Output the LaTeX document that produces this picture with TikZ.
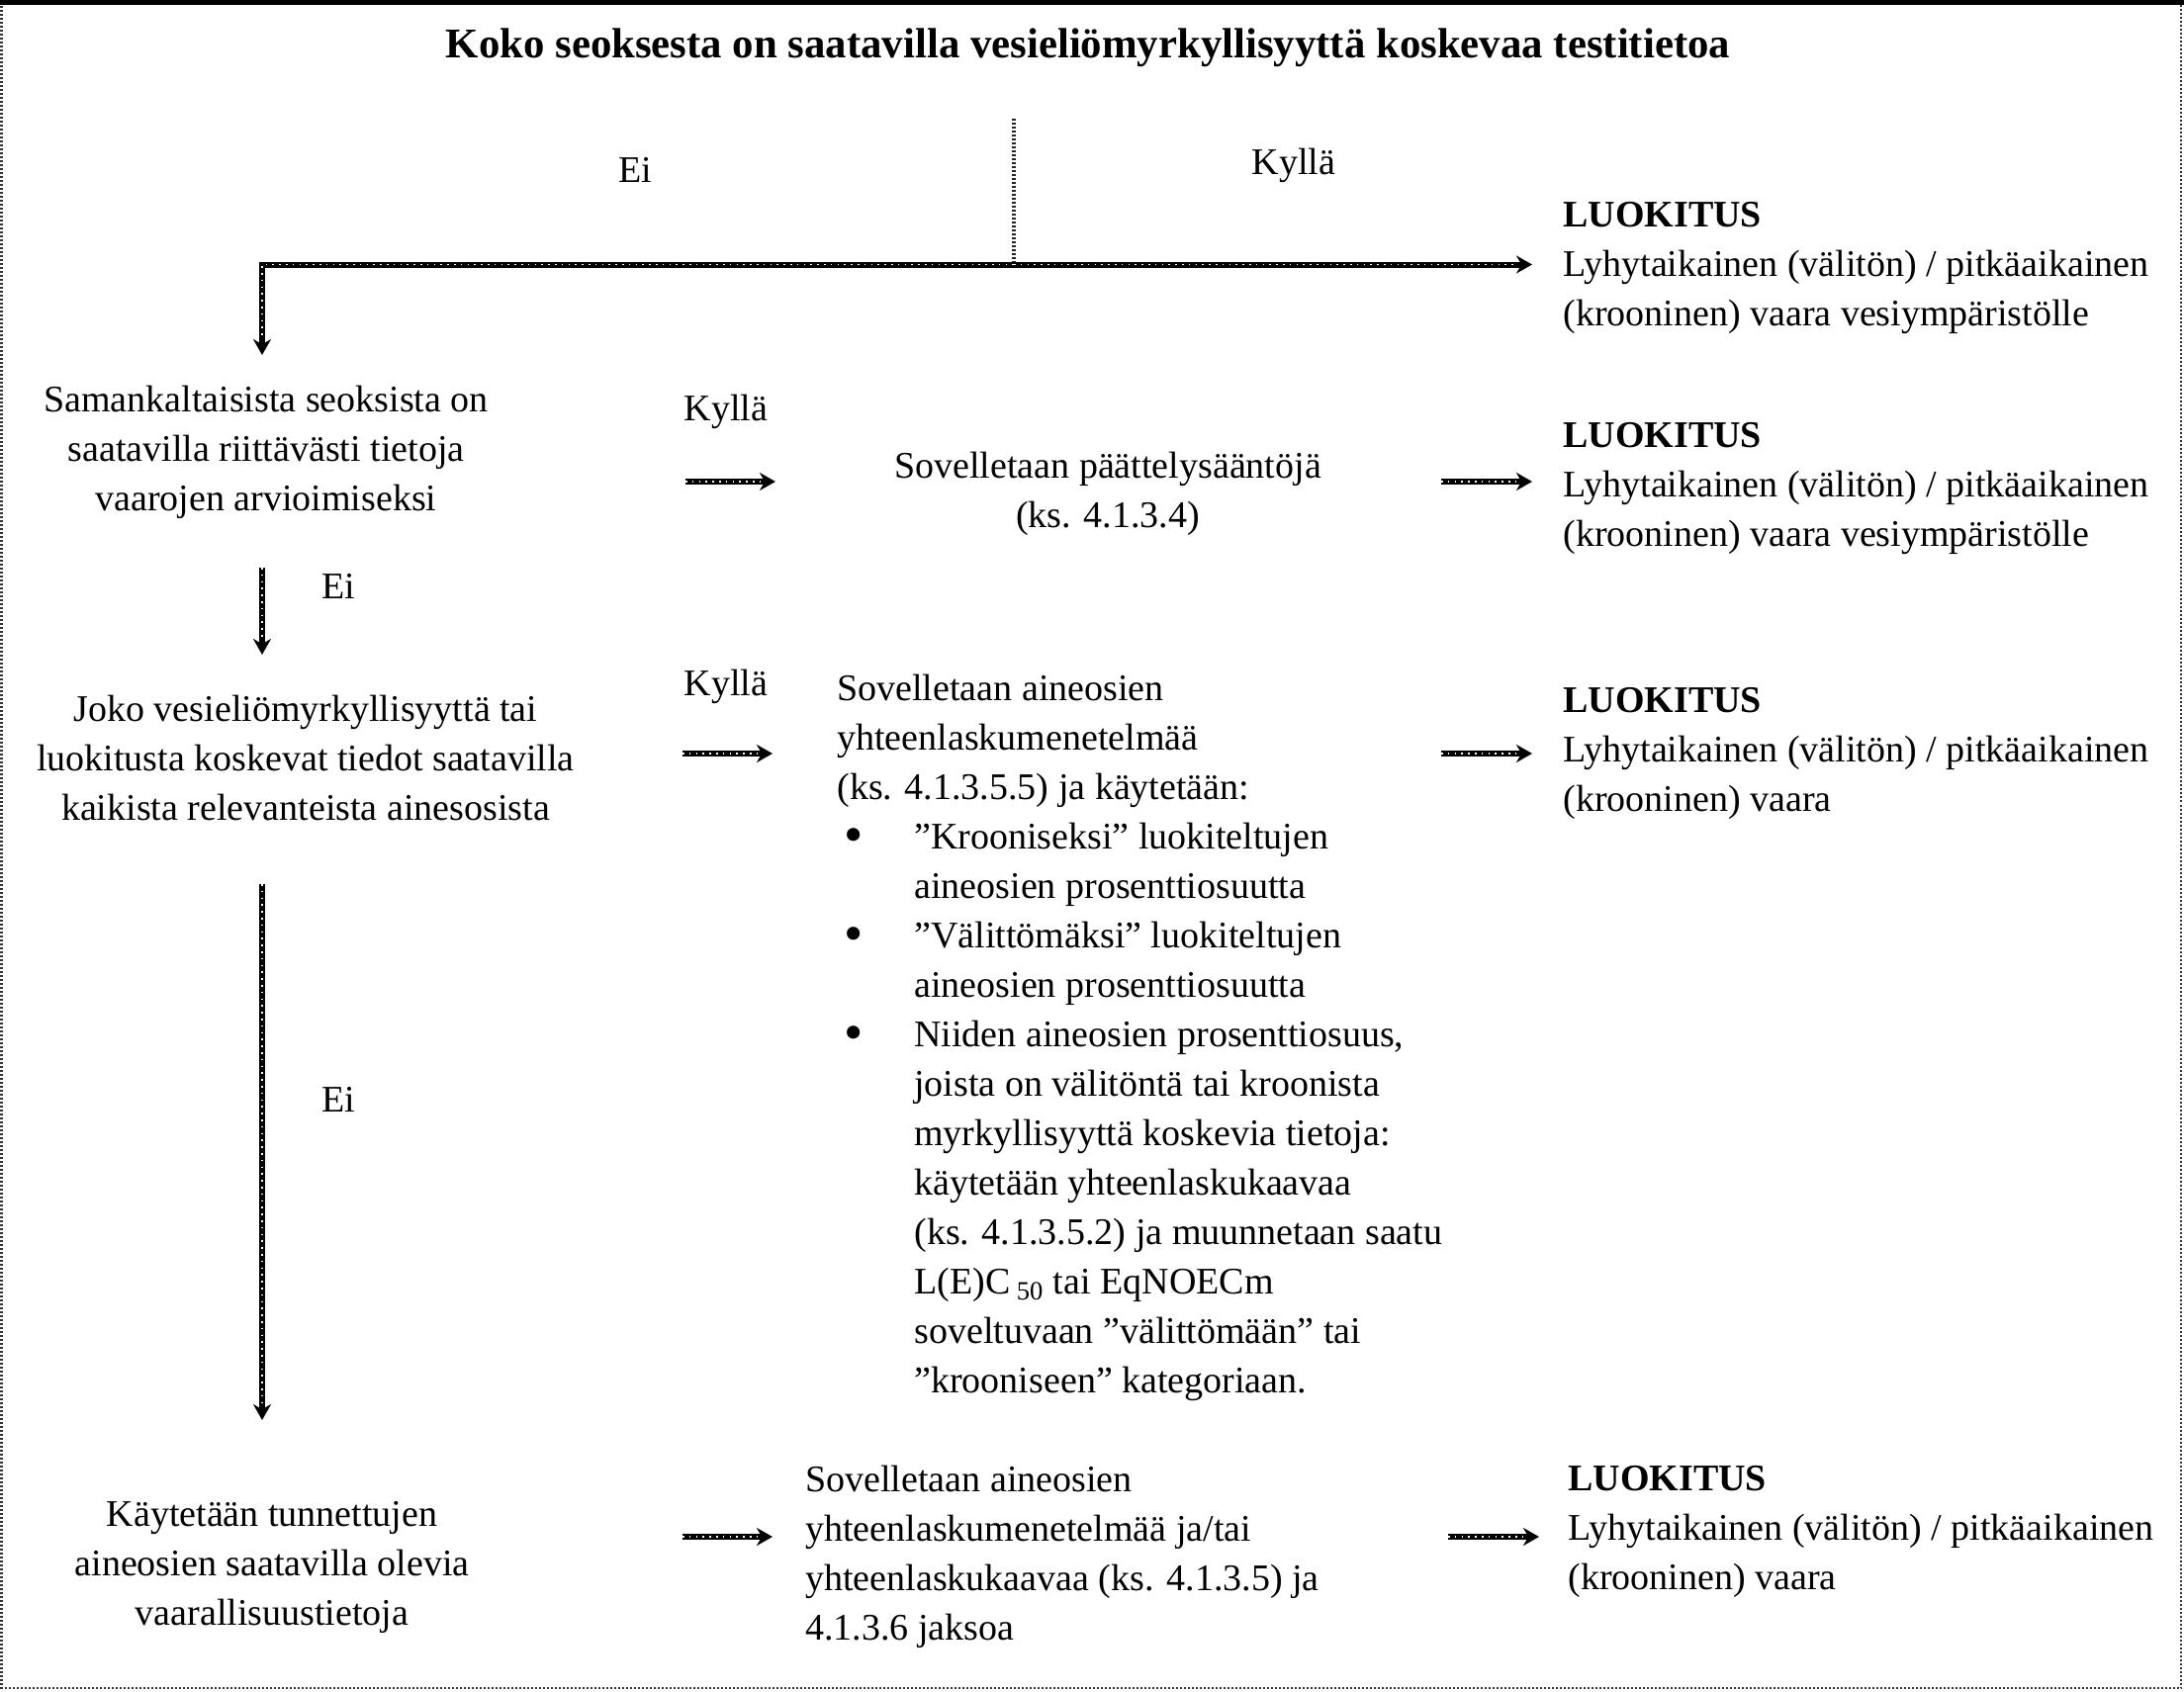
\documentclass[tikz,border=0pt]{standalone}
\usepackage{fontspec}
\setmainfont{Liberation Serif}
\usetikzlibrary{arrows.meta}
\newcommand\myblt{\hspace*{3.5pt}\makebox[35.5pt][l]{\raisebox{-2pt}{\scalebox{1.45}{\textbullet}}}}
\newcommand\myind{\hspace*{39pt}}
\begin{document}
\begin{tikzpicture}[x=0.5pt,y=-0.5pt,
  txt/.style={inner sep=0pt, yshift=-3.5pt, font=\fontsize{19}{25}\selectfont,
    execute at begin node=\strut, execute at end node=\strut},
  ctr/.style={txt, align=center},
  lft/.style={txt, align=left, anchor=west},
  lbl/.style={inner sep=0pt, font=\fontsize{19}{25}\selectfont},
  arr/.style={line width=3pt, -{Stealth[length=8pt,width=9pt]},
    postaction={draw=white, -, line width=0.8pt, dash pattern=on 0.8pt off 2.6pt, shorten >=8pt}},
  dotv/.style={line width=1.6pt, draw=black!85, dash pattern=on 1pt off 1pt}]
\useasboundingbox (0,0) rectangle (2208,1710);
% frame
\draw[line width=1.2pt, draw=black!80, dash pattern=on 1pt off 1pt] (1.5,2) rectangle (2205,1707);
\draw[line width=2.5pt] (0,2.5) -- (2208,2.5);

% title
\node[lbl, font=\fontsize{21.4}{25}\selectfont\bfseries] (title) at (1100,48) {Koko seoksesta on saatavilla vesieliömyrkyllisyyttä koskevaa testitietoa};

% labels
\node[lbl] (ei1) at (642,172) {Ei};
\node[lbl] (ky1) at (1308,167) {Kyllä};
\node[lbl] (ky2) at (734,416) {Kyllä};
\node[lbl] (ei2) at (342,593) {Ei};
\node[lbl] (ky3) at (734,694) {Kyllä};
\node[lbl] (ei3) at (342,1112) {Ei};

% left column
\node[ctr] (n2) at (269,454) {Samankaltaisista seoksista on\\ saatavilla riittävästi tietoja\\ vaarojen arvioimiseksi};
\node[ctr] (n3) at (309,767) {Joko vesieliömyrkyllisyyttä tai\\ luokitusta koskevat tiedot saatavilla\\ kaikista relevanteista ainesosista};
\node[ctr] (n4) at (275,1581) {Käytetään tunnettujen\\ aineosien saatavilla olevia\\ vaarallisuustietoja};

% middle column
\node[ctr] (p2) at (1120,496) {Sovelletaan päättelysääntöjä\\ (ks. 4.1.3.4)};
\node[lft] (m3) at (846,1046) {Sovelletaan aineosien\\ yhteenlaskumenetelmää\\ (ks. 4.1.3.5.5) ja käytetään:\\
\myblt ”Krooniseksi” luokiteltujen\\ \myind aineosien prosenttiosuutta\\
\myblt ”Välittömäksi” luokiteltujen\\ \myind aineosien prosenttiosuutta\\
\myblt Niiden aineosien prosenttiosuus,\\ \myind joista on välitöntä tai kroonista\\ \myind myrkyllisyyttä koskevia tietoja:\\ \myind käytetään yhteenlaskukaavaa\\ \myind (ks. 4.1.3.5.2) ja muunnetaan saatu\\ \myind L(E)C\,\textsubscript{50} tai EqNOECm\\ \myind soveltuvaan ”välittömään” tai\\ \myind ”krooniseen” kategoriaan.};
\node[lft] (m4) at (814,1571) {Sovelletaan aineosien\\ yhteenlaskumenetelmää ja/tai\\ yhteenlaskukaavaa (ks. 4.1.3.5) ja\\ 4.1.3.6 jaksoa};

% right column
\node[lft] (l1) at (1580,267.5) {\textbf{LUOKITUS}\\ Lyhytaikainen (välitön) / pitkäaikainen\\ (krooninen) vaara vesiympäristölle};
\node[lft] (l2) at (1580,490) {\textbf{LUOKITUS}\\ Lyhytaikainen (välitön) / pitkäaikainen\\ (krooninen) vaara vesiympäristölle};
\node[lft] (l3) at (1580,758) {\textbf{LUOKITUS}\\ Lyhytaikainen (välitön) / pitkäaikainen\\ (krooninen) vaara};
\node[lft] (l4) at (1585,1545) {\textbf{LUOKITUS}\\ Lyhytaikainen (välitön) / pitkäaikainen\\ (krooninen) vaara};

% connector coordinates
\coordinate (jt) at (1025,120);
\coordinate (j) at (1025,267.5);
\coordinate (cl) at (265,267.5);
\coordinate (d1) at (265,359);
\coordinate (a1) at (1549,267.5);
\coordinate (r2a) at (693,487); \coordinate (r2b) at (784,487);
\coordinate (r2c) at (1457,487); \coordinate (r2d) at (1549,487);
\coordinate (d2a) at (265,574); \coordinate (d2b) at (265,662);
\coordinate (r3a) at (690,762); \coordinate (r3b) at (781,762);
\coordinate (r3c) at (1457,762); \coordinate (r3d) at (1549,762);
\coordinate (d3a) at (265,894); \coordinate (d3b) at (265,1436);
\coordinate (r4a) at (690,1554); \coordinate (r4b) at (781,1554);
\coordinate (r4c) at (1464,1554); \coordinate (r4d) at (1556,1554);

% connectors
\draw[dotv] (jt) -- (j);
\draw[arr] (j) -- (cl) -- (d1);
\draw[arr] (j) -- (a1);
\draw[arr] (r2a) -- (r2b);
\draw[arr] (r2c) -- (r2d);
\draw[arr] (d2a) -- (d2b);
\draw[arr] (r3a) -- (r3b);
\draw[arr] (r3c) -- (r3d);
\draw[arr] (d3a) -- (d3b);
\draw[arr] (r4a) -- (r4b);
\draw[arr] (r4c) -- (r4d);
\end{tikzpicture}
\end{document}
